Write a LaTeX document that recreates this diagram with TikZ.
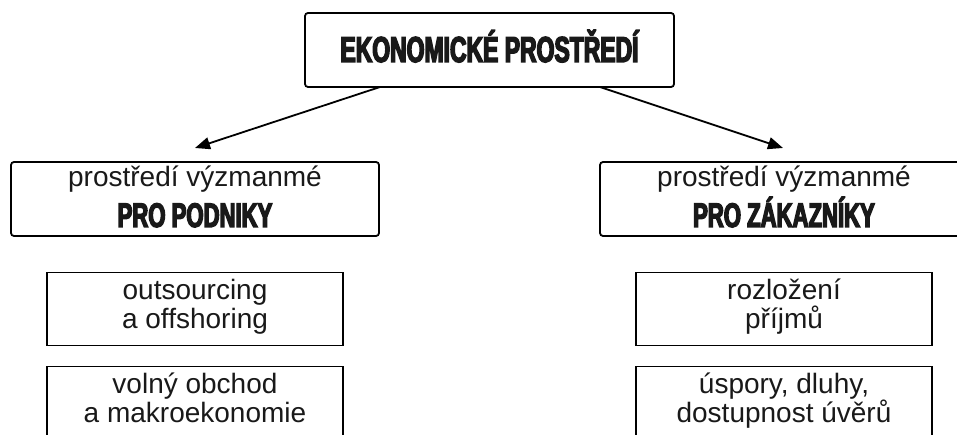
\documentclass[tikz,border=0pt]{standalone}
\usepackage{fontspec}
\setmainfont{Liberation Sans}
\newfontfamily\titlecond[FakeStretch=0.637,FakeBold=4]{Liberation Sans}
\newfontfamily\subcond[FakeStretch=0.65,FakeBold=4]{Liberation Sans}
\usetikzlibrary{arrows.meta}
\tikzset{
  rbox/.style={draw=black, line width=1.8pt, rounded corners=3pt, inner sep=0pt},
  sbox/.style={draw=black, line width=1.8pt, inner sep=0pt,
    minimum width=296pt, minimum height=73pt},
  arr/.style={line width=1.8pt, -{Triangle[length=15pt,width=12pt]}},
  regtxt/.style={anchor=base, inner sep=0pt, text=black!90, font=\fontsize{28}{30}\selectfont},
  boldtxt/.style={anchor=base, inner sep=0pt, text=black!90, font=\fontsize{34}{34}\selectfont\subcond\bfseries},
  titletxt/.style={anchor=base, inner sep=0pt, text=black!90, font=\fontsize{36}{36}\selectfont\titlecond\bfseries},
}
\begin{document}
\begin{tikzpicture}[x=1pt,y=-1pt]
\useasboundingbox (0,0) rectangle (957,435);
\fill[white] (0,0) rectangle (957,435);
\clip (0,0) rectangle (957,435);
% top
\node[rbox, minimum width=369pt, minimum height=74pt] (top) at (489.5,50) {};
\node[titletxt] (toptxt) at (489.5,62) {EKONOMICKÉ PROSTŘEDÍ};
% middle
\node[rbox, minimum width=368pt, minimum height=74pt] (left) at (195,199) {};
\node[regtxt] (left1) at (195,187) {prostředí výzmanmé};
\node[boldtxt] (left2) at (195,227) {PRO PODNIKY};
\node[rbox, minimum width=368pt, minimum height=74pt] (right) at (784,199) {};
\node[regtxt] (right1) at (784,187) {prostředí výzmanmé};
\node[boldtxt] (right2) at (784,227) {PRO ZÁKAZNÍKY};
% bottom boxes
\node[sbox] (l1) at (195,309) {};
\node[sbox] (l2) at (195,403) {};
\node[sbox] (r1) at (784,309) {};
\node[sbox] (r2) at (784,403) {};
\node[regtxt] (l1a) at (195,299) {outsourcing};
\node[regtxt] (l1b) at (195,328) {a offshoring};
\node[regtxt] (l2a) at (195,393) {volný obchod};
\node[regtxt] (l2b) at (195,422) {a makroekonomie};
\node[regtxt] (r1a) at (784,299) {rozložení};
\node[regtxt] (r1b) at (784,328) {příjmů};
\node[regtxt] (r2a) at (784,393) {úspory, dluhy,};
\node[regtxt] (r2b) at (784,422) {dostupnost úvěrů};
% arrows
\coordinate (ls) at (380,87);
\coordinate (le) at (195,148);
\coordinate (rs) at (600,87);
\coordinate (re) at (783,148);
\draw[arr] (ls) -- (le);
\draw[arr] (rs) -- (re);
\end{tikzpicture}
\end{document}
